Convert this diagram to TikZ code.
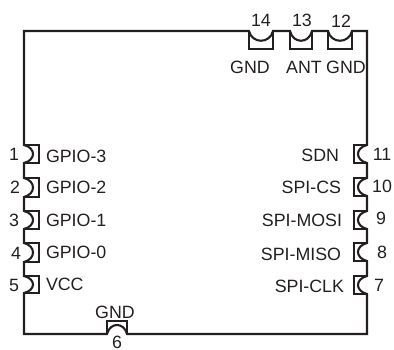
\documentclass[tikz,border=0pt]{standalone}
\usepackage{fontspec}
\setmainfont{Liberation Sans}
\definecolor{ink}{HTML}{231F20}
\tikzset{
  outline/.style={draw=ink,line width=2.1pt,line join=miter},
  lab/.style={font=\fontsize{17.8}{18}\selectfont,text=ink,inner sep=0pt,outer sep=0pt},
  labl/.style={lab,anchor=west},
  labr/.style={lab,anchor=east}
}
\begin{document}
\begin{tikzpicture}[x=1pt,y=-1pt]
\useasboundingbox (0,0) rectangle (394,350);
% body outline with the semicircular pad notches
\draw[outline]
  (24,31) -- (249,31) .. controls (252,44) and (270,44) .. (273,31)
  -- (290,31) .. controls (293,44) and (309,44) .. (312,31)
  -- (328,31) .. controls (331,44) and (349,44) .. (352,31)
  -- (367,31) -- (367,145) .. controls (355,148) and (355,160) .. (367,163)
  -- (367,178) .. controls (355,181) and (355,193) .. (367,196)
  -- (367,211) .. controls (355,214) and (355,226) .. (367,229)
  -- (367,243) .. controls (355,246) and (355,258) .. (367,261)
  -- (367,276) .. controls (355,279) and (355,291) .. (367,294)
  -- (367,334) -- (127,334) .. controls (124,322) and (110,322) .. (107,334)
  -- (24,334) -- (24,293) .. controls (36,290) and (36,279) .. (24,276)
  -- (24,262) .. controls (36,259) and (36,246) .. (24,243)
  -- (24,229) .. controls (36,226) and (36,214) .. (24,211)
  -- (24,197) .. controls (36,194) and (36,181) .. (24,178)
  -- (24,163) .. controls (36,160) and (36,148) .. (24,145)
  -- cycle;
% pad frames
\foreach \a/\b in {249/273,290/312,328/352}
  \draw[outline] (\a,31) -- (\a,49) -- (\b,49) -- (\b,31);
\foreach \a/\b in {145/163,178/197,211/229,243/262,276/293}
  \draw[outline] (24,\a) -- (39,\a) -- (39,\b) -- (24,\b);
\foreach \a/\b in {145/163,178/196,211/229,243/261,276/294}
  \draw[outline] (367,\a) -- (354,\a) -- (354,\b) -- (367,\b);
\draw[outline] (107,334) -- (107,321) -- (127,321) -- (127,334);
% top
\node[lab] (n14) at (261,20) {14};
\node[lab] (n13) at (302,20) {13};
\node[lab] (n12) at (341,21) {12};
\node[lab] (t14) at (250,67) {GND};
\node[lab] (t13) at (304,67) {ANT};
\node[lab] (t12) at (346,67) {GND};
% left
\node[lab] (n1) at (14,154) {1};
\node[lab] (n2) at (15,187) {2};
\node[lab] (n3) at (14,220) {3};
\node[lab] (n4) at (16,253) {4};
\node[lab] (n5) at (14,285) {5};
\node[labl] (t1) at (46,156) {GPIO-3};
\node[labl] (t2) at (46,187) {GPIO-2};
\node[labl] (t3) at (46,220) {GPIO-1};
\node[labl] (t4) at (46,252) {GPIO-0};
\node[labl] (t5) at (46,284) {VCC};
% right
\node[labr] (t11) at (339,155) {SDN};
\node[labr] (t10) at (341,187) {SPI-CS};
\node[labr] (t9) at (342,220) {SPI-MOSI};
\node[labr] (t8) at (341,254) {SPI-MISO};
\node[labr] (t7) at (344,286) {SPI-CLK};
\node[lab] (n11) at (382,154) {11};
\node[lab] (n10) at (382,186) {10};
\node[lab] (n9) at (381,218) {9};
\node[lab] (n8) at (382,252) {8};
\node[lab] (n7) at (379,285) {7};
% bottom
\node[lab] (t6) at (115,312) {GND};
\node[lab] (n6) at (117,342.5) {6};
\end{tikzpicture}
\end{document}
